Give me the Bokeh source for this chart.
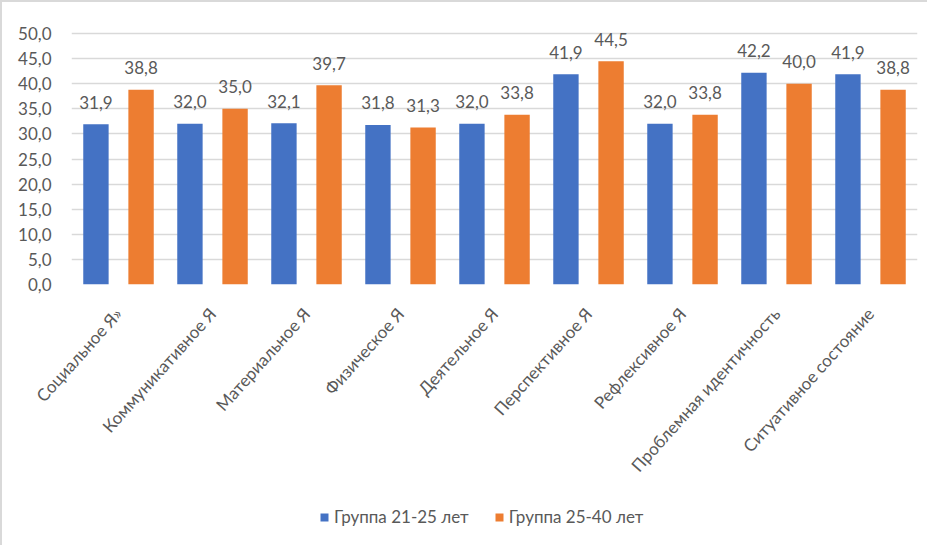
from bokeh.plotting import figure
from bokeh.layouts import column
from bokeh.models import ColumnDataSource, FactorRange, Legend, LegendItem, CustomJSTickFormatter, FixedTicker
from bokeh.transform import dodge
from bokeh.core.properties import value
from bokeh.embed import file_html
from bokeh.resources import INLINE

categories = ["Социальное Я»", "Коммуникативное Я", "Материальное Я", "Физическое Я",
              "Деятельное Я", "Перспективное Я", "Рефлексивное Я",
              "Проблемная идентичность", "Ситуативное состояние"]
group_21_25 = [31.9, 32.0, 32.1, 31.8, 32.0, 41.9, 32.0, 42.2, 41.9]
group_25_40 = [38.8, 35.0, 39.7, 31.3, 33.8, 44.5, 33.8, 40.0, 38.8]
series_names = ["Группа 21-25 лет", "Группа 25-40 лет"]
y_ticks = [0, 5, 10, 15, 20, 25, 30, 35, 40, 45, 50]

BLUE = "#4472C4"
ORANGE = "#ED7D31"
GREY = "#595959"
FONT = "Lato"
FS = "17px"

def fmt(v):
    return f"{v:.1f}".replace(".", ",")

src = ColumnDataSource(dict(
    cat=categories,
    a=group_21_25,
    b=group_25_40,
    la=[fmt(v) for v in group_21_25],
    lb=[fmt(v) for v in group_25_40],
))

W = 925
p = figure(x_range=FactorRange(factors=categories, range_padding=0),
           y_range=(0, 51), width=W, height=487,
           output_backend="svg", toolbar_location=None,
           min_border_left=69, min_border_right=10, min_border_top=26, min_border_bottom=205)
p.outline_line_color = None

off = 0.24
w = 0.27
p.vbar(x=dodge("cat", -off, range=p.x_range), top="a", width=w, source=src,
       fill_color=BLUE, line_color=None)
p.vbar(x=dodge("cat", off, range=p.x_range), top="b", width=w, source=src,
       fill_color=ORANGE, line_color=None)

p.text(x=dodge("cat", -off, range=p.x_range), y="a", text="la", source=src,
       text_align="center", text_baseline="alphabetic", y_offset=-22,
       text_font=value(FONT), text_font_size=FS, text_color=GREY)
p.text(x=dodge("cat", off, range=p.x_range), y="b", text="lb", source=src,
       text_align="center", text_baseline="alphabetic", y_offset=-22,
       text_font=value(FONT), text_font_size=FS, text_color=GREY)

# axes
p.yaxis.ticker = FixedTicker(ticks=y_ticks)
p.yaxis.formatter = CustomJSTickFormatter(code="return tick.toFixed(1).replace('.', ',');")
p.yaxis.axis_line_color = None
p.yaxis.major_tick_line_color = None
p.yaxis.minor_tick_line_color = None
p.yaxis.major_label_text_font = FONT
p.yaxis.major_label_text_font_size = FS
p.yaxis.major_label_text_color = GREY
p.yaxis.major_label_standoff = 14

p.xaxis.axis_line_color = None
p.xaxis.major_tick_line_color = None
p.xaxis.minor_tick_line_color = None
p.xaxis.major_label_orientation = 0.84
p.xaxis.major_label_text_font = FONT
p.xaxis.major_label_text_font_size = FS
p.xaxis.major_label_text_color = GREY
p.xaxis.major_label_standoff = 20

p.xgrid.grid_line_color = None
p.ygrid.grid_line_color = "#d9d9d9"
p.ygrid.grid_line_width = 1.5

# legend strip
lf = figure(width=W, height=56, x_range=(0, 1), y_range=(0, 1),
            x_axis_location=None, y_axis_location=None,
            output_backend="svg", toolbar_location=None,
            min_border=0, min_border_left=0, min_border_right=0,
            min_border_top=0, min_border_bottom=0)
lf.grid.visible = False
lf.outline_line_color = None
dummy = ColumnDataSource(dict(x=[-5.0], top=[-5.0]))
la = lf.vbar(x="x", top="top", width=0.1, source=dummy, fill_color=BLUE, line_color=None)
lb = lf.vbar(x="x", top="top", width=0.1, source=dummy, fill_color=ORANGE, line_color=None)

legend = Legend(items=[LegendItem(label=series_names[0], renderers=[la]),
                       LegendItem(label=series_names[1], renderers=[lb])],
                orientation="horizontal", location=(248, 18))
legend.border_line_color = None
legend.background_fill_alpha = 0
legend.label_text_font = FONT
legend.label_text_font_size = FS
legend.label_text_color = GREY
legend.glyph_width = 10
legend.glyph_height = 10
legend.label_standoff = 5
legend.spacing = 25
legend.padding = 0
legend.margin = 0
lf.add_layout(legend, "center")

layout = column(p, lf, spacing=0)
layout.styles = {"border-left": "2px solid #d9d9d9", "border-top": "2px solid #d9d9d9"}

open("out.html", "w").write(file_html(layout, INLINE))
